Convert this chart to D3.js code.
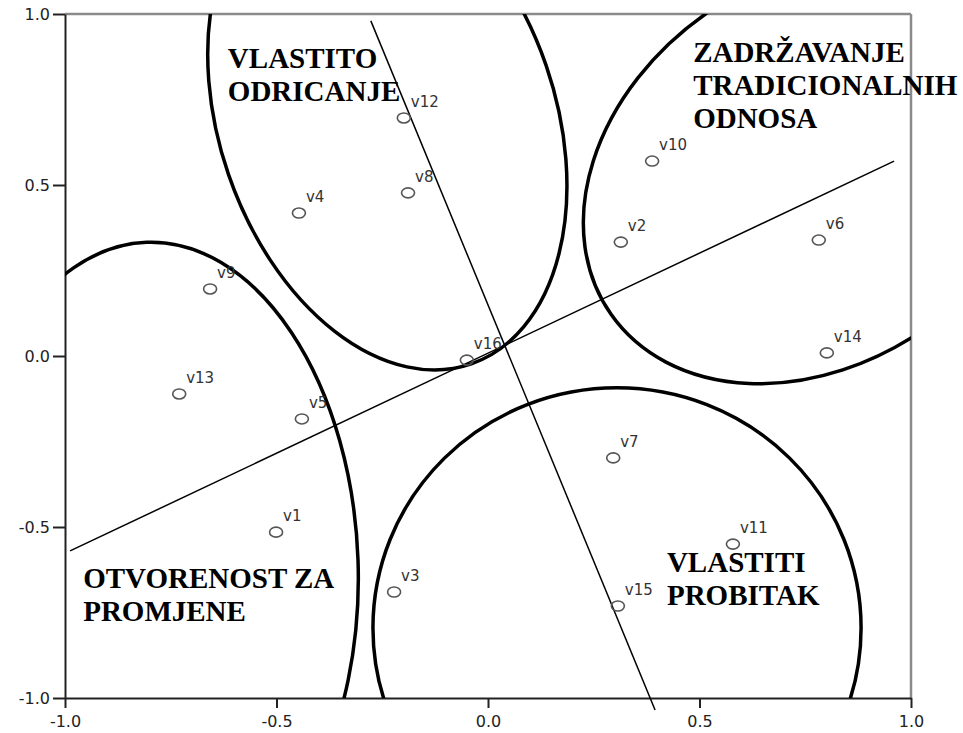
<!DOCTYPE html>
<html>
<head>
<meta charset="utf-8">
<script src="https://cdn.jsdelivr.net/npm/d3@7"></script>
<style>
  body { margin: 0; background: #fff; }
  svg { display: block; }
  .axis path, .axis line { stroke: #222; stroke-width: 2; }
  .axis text { font-family: "DejaVu Sans", sans-serif; font-size: 16px; fill: #222; }
</style>
</head>
<body>
<svg id="chart" width="963" height="733"></svg>
<script>
// variable coordinates (dimension 1, dimension 2)
let names = ["v1","v2","v3","v4","v5","v6","v7","v8","v9","v10","v11","v12","v13","v14","v15","v16"];
let dim1  = [-0.501, 0.314, -0.222, -0.447, -0.440, 0.782, 0.296, -0.189, -0.657, 0.388, 0.579, -0.199, -0.730, 0.801, 0.307, -0.050];
let dim2  = [-0.515, 0.333, -0.690, 0.418, -0.184, 0.339, -0.298, 0.477, 0.196, 0.570, -0.550, 0.696, -0.111, 0.009, -0.731, -0.012];

let xTicks = [-1.0, -0.5, 0.0, 0.5, 1.0];
let yTicks = [-1.0, -0.5, 0.0, 0.5, 1.0];

// the two dividing lines (start / end in data units)
let lineX1 = [-0.277, -0.988];
let lineY1 = [0.980, -0.570];
let lineX2 = [0.395, 0.960];
let lineY2 = [-1.035, 0.570];

// region ellipses (centre, radii in data units, rotation in degrees)
let ellCx  = [-0.238, -0.780, 0.775, 0.305];
let ellCy  = [0.690, -0.617, 0.541, -0.795];
let ellRx  = [0.397, 0.473, 0.591, 0.577];
let ellRy  = [0.754, 0.950, 0.561, 0.702];
let ellRot = [-19, -2, -35, 0];

// region titles
let regionText = [["VLASTITO", "ODRICANJE"], ["ZADRŽAVANJE", "TRADICIONALNIH", "ODNOSA"], ["OTVORENOST ZA", "PROMJENE"], ["VLASTITI", "PROBITAK"]];
let regionX = [-0.615, 0.485, -0.957, 0.423];
let regionY = [0.842, 0.860, -0.678, -0.632];

let chart = d3.select("#chart");

let x = d3.scaleLinear().domain([-1, 1]).range([65, 911]);
let y = d3.scaleLinear().domain([-1, 1]).range([698, 14]);

// clip for the ellipses
chart.append("clipPath").attr("id", "plotclip")
    .append("rect")
    .attr("x", x(-1)).attr("y", y(1))
    .attr("width", x(1) - x(-1)).attr("height", y(-1) - y(1));

// frame: top and right in grey
chart.append("line")
    .attr("x1", x(-1)).attr("x2", x(1)).attr("y1", y(1)).attr("y2", y(1))
    .attr("stroke", "#8a8a8a").attr("stroke-width", 2.5);
chart.append("line")
    .attr("x1", x(1)).attr("x2", x(1)).attr("y1", y(1)).attr("y2", y(-1))
    .attr("stroke", "#8a8a8a").attr("stroke-width", 2.5);

// axes
let fmt = function(d) { return d.toFixed(1); };
chart.append("g")
    .attr("class", "axis")
    .attr("transform", "translate(0," + y(-1) + ")")
    .call(d3.axisBottom(x).tickValues(xTicks).tickFormat(fmt).tickSize(10).tickSizeOuter(0).tickPadding(8));
chart.append("g")
    .attr("class", "axis")
    .attr("transform", "translate(" + x(-1) + ",0)")
    .call(d3.axisLeft(y).tickValues(yTicks).tickFormat(fmt).tickSize(12).tickSizeOuter(0).tickPadding(3));

// ellipses
let ellGroup = chart.append("g").attr("clip-path", "url(#plotclip)");
ellCx.forEach(function(cx, i) {
    let px = x(cx), py = y(ellCy[i]);
    ellGroup.append("ellipse")
        .attr("cx", px).attr("cy", py)
        .attr("rx", x(cx + ellRx[i]) - px)
        .attr("ry", py - y(ellCy[i] + ellRy[i]))
        .attr("transform", "rotate(" + ellRot[i] + "," + px + "," + py + ")")
        .attr("fill", "none")
        .attr("stroke", "#000")
        .attr("stroke-width", 3.5);
});

// dividing lines
lineX1.forEach(function(d, i) {
    chart.append("line")
        .attr("x1", x(lineX1[i])).attr("y1", y(lineY1[i]))
        .attr("x2", x(lineX2[i])).attr("y2", y(lineY2[i]))
        .attr("stroke", "#000").attr("stroke-width", 1.5);
});

// points
chart.selectAll("ellipse.pt")
    .data(names).enter()
    .append("ellipse")
    .attr("class", "pt")
    .attr("cx", function(d, i) { return x(dim1[i]); })
    .attr("cy", function(d, i) { return y(dim2[i]); })
    .attr("rx", 6.5).attr("ry", 5)
    .attr("fill", "none")
    .attr("stroke", "#555")
    .attr("stroke-width", 1.6);

chart.selectAll("text.ptlabel")
    .data(names).enter()
    .append("text")
    .attr("class", "ptlabel")
    .attr("x", function(d, i) { return x(dim1[i]) + 7; })
    .attr("y", function(d, i) { return y(dim2[i]) - 11; })
    .style("font-family", "DejaVu Sans, sans-serif")
    .style("font-size", "15px")
    .style("fill", "#333")
    .text(function(d) { return d; });

// region titles
regionText.forEach(function(lines, i) {
    let t = chart.append("text")
        .attr("x", x(regionX[i]))
        .attr("y", y(regionY[i]))
        .style("font-family", "Liberation Serif, Times New Roman, serif")
        .style("font-weight", "bold")
        .style("font-size", "29px")
        .style("fill", "#000");
    lines.forEach(function(s, j) {
        t.append("tspan")
            .attr("x", x(regionX[i]))
            .attr("dy", j == 0 ? 0 : 33)
            .text(s);
    });
});
</script>
</body>
</html>
